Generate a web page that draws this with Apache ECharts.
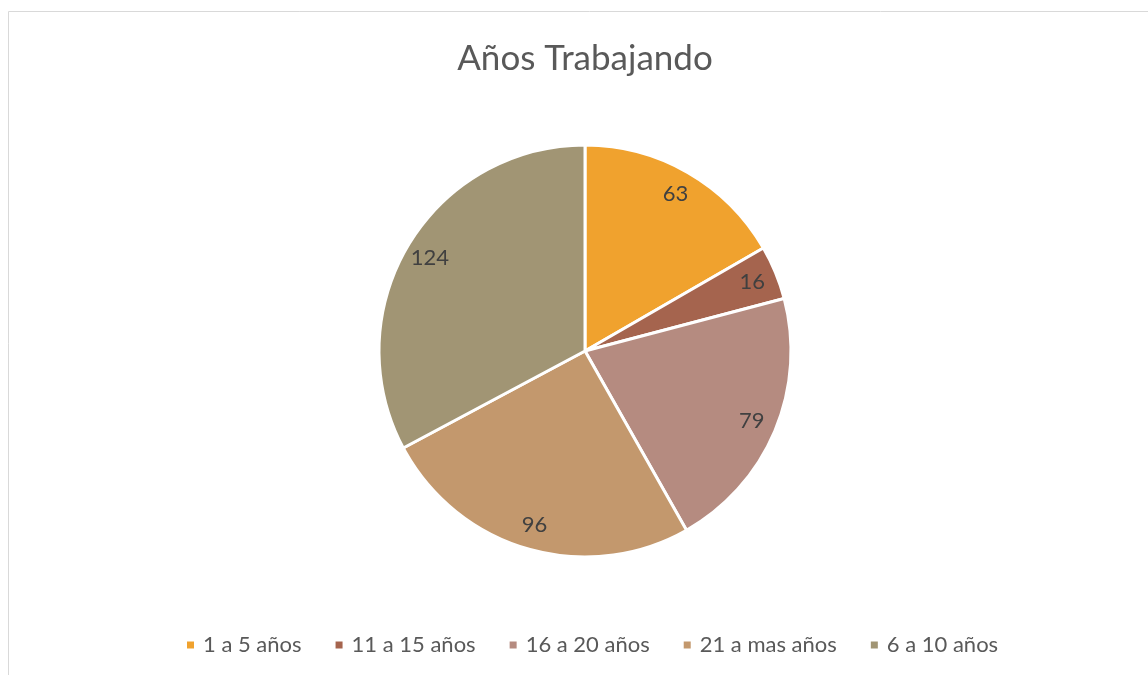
<!DOCTYPE html>
<html>
<head>
<meta charset="utf-8">
<script src="https://cdn.jsdelivr.net/npm/echarts@6/dist/echarts.min.js"></script>
<style>
  html, body { margin: 0; padding: 0; background: #ffffff; overflow: hidden; }
  #chart { width: 1170px; height: 675px; }
</style>
</head>
<body>
<div id="chart"></div>
<script>
// Years worked, grouped by range
const categories = ['1 a 5 años', '11 a 15 años', '16 a 20 años', '21 a mas años', '6 a 10 años'];
const counts = [63, 16, 79, 96, 124];
const sliceColors = ['#F0A22E', '#A5644E', '#B58B80', '#C3986D', '#A19574'];

const FONT = 'Lato, "Open Sans", sans-serif';
const pieData = categories.map((name, i) => ({ name, value: counts[i] }));

const chart = echarts.init(document.getElementById('chart'), null, { renderer: 'canvas' });
chart.setOption({
  animation: false,
  color: sliceColors,
  title: {
    text: 'Años Trabajando',
    left: 'center',
    top: 36,
    textStyle: { fontFamily: FONT, fontSize: 35, fontWeight: 'normal', color: '#595959' }
  },
  legend: {
    bottom: 14,
    left: 180,
    icon: 'rect',
    itemWidth: 9,
    itemHeight: 9,
    itemGap: 32,
    textStyle: { fontFamily: FONT, fontSize: 22, color: '#595959', padding: [0, 0, 0, 3] },
    data: categories
  },
  graphic: [{
    type: 'rect',
    shape: { x: 8.5, y: 11.5, width: 1200, height: 700 },
    style: { fill: 'none', stroke: '#d9d9d9', lineWidth: 1 },
    silent: true,
    z: -1
  }],
  series: [
    {
      type: 'pie',
      center: [585, 351],
      radius: [0, 206],
      startAngle: 90,
      clockwise: true,
      data: pieData,
      label: { show: false },
      labelLine: { show: false },
      itemStyle: { borderColor: '#ffffff', borderWidth: 3 },
      emphasis: { disabled: true }
    },
    {
      // transparent ring that carries the value labels near the rim
      type: 'pie',
      center: [585, 351],
      radius: [150, 206],
      startAngle: 90,
      clockwise: true,
      silent: true,
      data: pieData,
      itemStyle: { color: 'rgba(0,0,0,0)', borderWidth: 0 },
      label: {
        show: true,
        position: 'inside',
        formatter: '{c}',
        fontFamily: FONT,
        fontSize: 22,
        color: '#404040'
      },
      labelLine: { show: false },
      emphasis: { disabled: true }
    }
  ]
});
</script>
</body>
</html>
